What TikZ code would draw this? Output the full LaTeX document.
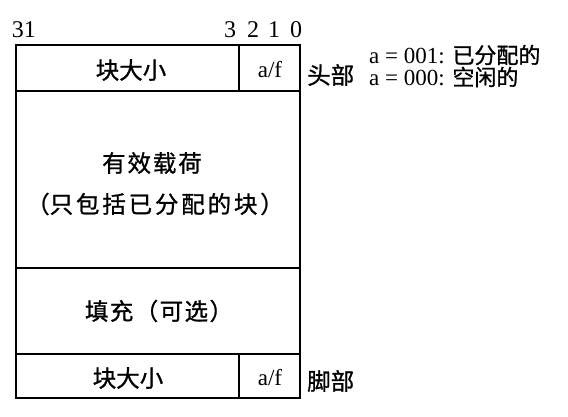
\documentclass[tikz,border=0pt]{standalone}
\usepackage{fontspec}
\setmainfont{Liberation Serif}
\newfontfamily\latin{Liberation Serif}
\newfontfamily\cjk{Noto Sans CJK SC}[FakeBold=1]
\begin{document}
\begin{tikzpicture}[x=1pt,y=-1pt,
  box/.style={draw,line width=1.2pt},
  cn/.style={font=\cjk\fontsize{23.5}{26}\selectfont,inner sep=0pt},
  lat/.style={font=\latin\fontsize{23}{24}\selectfont,inner sep=0pt},
  bit/.style={font=\latin\fontsize{24}{24}\selectfont,inner sep=0pt,anchor=base}]
\useasboundingbox (0,0) rectangle (568,416);
% outline
\draw[box] (16,45) rectangle (300,398);
\draw[box] (16,91) -- (300,91);
\draw[box] (16,268) -- (300,268);
\draw[box] (16,354) -- (300,354);
\draw[box] (239,45) -- (239,91);
\draw[box] (239,354) -- (239,398);
% bit labels
\node[bit] (b31) at (24,37) {31};
\node[bit] (b3) at (230,37) {3};
\node[bit] (b2) at (253,37) {2};
\node[bit] (b1) at (274,37) {1};
\node[bit] (b0) at (296,37) {0};
% header
\node[cn] (hsize) at (131,70) {块大小};
\node[lat] (haf) at (270,70) {a/f};
\node[cn,anchor=west] (hlab) at (307,75) {头部};
\node[font=\latin\fontsize{23}{22}\selectfont,inner sep=0pt,anchor=west,align=left] (legend) at (369,66)
  {\latin a = 001: {\cjk\fontsize{22}{22}\selectfont 已分配的}\\\latin a = 000: {\cjk\fontsize{22}{22}\selectfont 空闲的}};
% payload
\node[cn] (pay1) at (152,163) {\addfontfeature{LetterSpace=8}有效载荷};
\node[cn] (pay2) at (155,204) {（\addfontfeature{LetterSpace=12}只包括已分配的块）};
% padding
\node[cn] (pad) at (159,311) {\addfontfeature{LetterSpace=6}填充（可选）};
% footer
\node[cn] (fsize) at (128,378) {块大小};
\node[lat] (faf) at (270,378) {a/f};
\node[cn,anchor=west] (flab) at (307,381) {脚部};
\end{tikzpicture}
\end{document}
